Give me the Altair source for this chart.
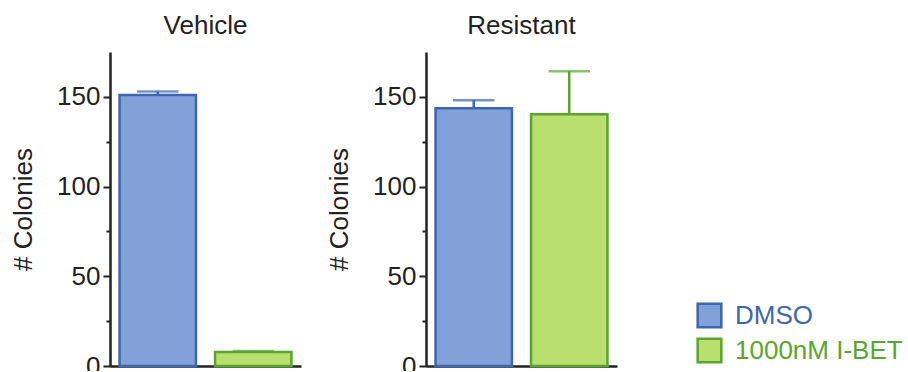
import altair as alt
import pandas as pd

conditions = ["Vehicle", "Vehicle", "Resistant", "Resistant"]
treatments = ["DMSO", "1000nM I-BET", "DMSO", "1000nM I-BET"]
means = [151.0, 7.8, 143.7, 140.3]
errors = [2.0, 0.6, 4.4, 24.0]

treat_order = ["DMSO", "1000nM I-BET"]
fill_colors = ["#82a1d8", "#b9df6f"]
stroke_colors = ["#3d66b0", "#5aa52e"]
y_ticks = [0, 25, 50, 75, 100, 125, 150]

df = pd.DataFrame({
    "condition": conditions,
    "treatment": treatments,
    "mean": means,
    "err": errors,
})
df["upper"] = df["mean"] + df["err"]

FONT = "Liberation Sans"
TXT = "#222222"
FS = 26

legend = alt.Legend(
    title=None, orient="none", legendX=586, legendY=250,
    symbolType="square", symbolSize=560, symbolStrokeWidth=2.5,
    labelFontSize=FS, labelFont=FONT, labelOffset=12, rowPadding=0,
    labelLimit=400,
    labelColor=alt.ExprRef("datum.value == 'DMSO' ? '%s' : '%s'" % (stroke_colors[0], stroke_colors[1])),
)

fill_scale = alt.Scale(domain=treat_order, range=fill_colors)
stroke_scale = alt.Scale(domain=treat_order, range=stroke_colors)


def panel(cond):
    base = alt.Chart(df).transform_filter(alt.datum.condition == cond)
    x = alt.X(
        "treatment:N", sort=treat_order,
        scale=alt.Scale(paddingInner=0.2, paddingOuter=0.1),
        axis=alt.Axis(labels=False, ticks=False, title=None, domainColor=TXT,
                      domainWidth=2.5, grid=False),
    )
    y = alt.Y(
        "mean:Q",
        scale=alt.Scale(domain=[0, 175], nice=False),
        axis=alt.Axis(
            values=y_ticks,
            labelExpr="datum.value % 50 == 0 ? datum.label : ''",
            tickSize=alt.condition("datum.value % 50 == 0", alt.value(7), alt.value(4)),
            tickWidth=2, tickColor=TXT, domainColor=TXT, domainWidth=2.5,
            labelFontSize=FS, labelFont=FONT, labelColor=TXT, labelPadding=3,
            title="# Colonies", titleFontSize=FS, titleFont=FONT, titleColor=TXT,
            titleFontWeight="normal", titlePadding=20, grid=False,
        ),
    )
    bars = base.mark_bar(strokeWidth=2.5).encode(
        x=x, y=y,
        fill=alt.Fill("treatment:N", scale=fill_scale, legend=legend),
        stroke=alt.Stroke("treatment:N", scale=stroke_scale, legend=legend),
    )
    rule = base.mark_rule(strokeWidth=2.5).encode(
        x=x, y="mean:Q", y2="upper:Q",
        stroke=alt.Stroke("treatment:N", scale=stroke_scale, legend=legend),
    )
    cap = base.mark_tick(thickness=0.1, filled=False, strokeWidth=2.5).encode(
        x=x, y="upper:Q", size=alt.value(39),
        stroke=alt.Stroke("treatment:N", scale=stroke_scale, legend=legend),
    )
    return alt.layer(rule, bars, cap).properties(
        width=191, height=314,
        view=alt.ViewBackground(stroke="transparent", strokeWidth=0),
        title=alt.TitleParams(cond, fontSize=FS, font=FONT, color=TXT,
                              fontWeight="normal", anchor="middle", offset=13),
    )


chart = alt.hconcat(panel("Vehicle"), panel("Resistant"), spacing=25).properties(
    padding={"left": 10, "top": 13, "right": 0, "bottom": -8},
).configure_view(stroke="transparent", strokeWidth=0).configure(background="white")

chart.save("out.html", embed_options={"renderer": "svg", "actions": False})
